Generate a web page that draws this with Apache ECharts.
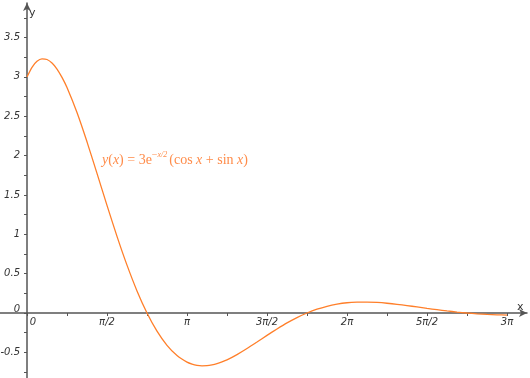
<!DOCTYPE html>
<html><head><meta charset="utf-8">
<script src="https://cdn.jsdelivr.net/npm/echarts@6/dist/echarts.min.js"></script>
<style>html,body{margin:0;padding:0;background:#fff}#c{width:530px;height:378px}</style>
</head><body><div id="c"></div>
<script>
// x in units of pi/4
var xs = [0,0.125,0.25,0.375,0.5,0.625,0.75,0.875,1,1.25,1.5,1.75,2,2.25,2.5,2.75,3,3.25,3.5,3.75,4,4.125,4.25,4.375,4.5,4.625,4.75,4.875,5,5.25,5.5,5.75,6,6.25,6.5,6.75,7,7.25,7.5,7.75,8,8.25,8.5,8.75,9,9.25,9.5,9.75,10,10.25,10.5,10.75,11,11.25,11.5,11.75,12];
var ys = [3.000,3.122,3.198,3.229,3.221,3.176,3.100,2.994,2.865,2.547,2.175,1.774,1.368,0.974,0.608,0.281,0,-0.231,-0.411,-0.541,-0.624,-0.649,-0.665,-0.671,-0.670,-0.660,-0.644,-0.622,-0.596,-0.529,-0.452,-0.369,-0.284,-0.203,-0.126,-0.058,0,0.048,0.085,0.112,0.130,0.138,0.139,0.134,0.124,0.110,0.094,0.077,0.059,0.042,0.026,0.012,0,-0.010,-0.018,-0.023,-0.027];
var xTickVals = [0,1,2,3,4,5,6,7,8,9,10,11,12];
var xLabelVals = [0,2,4,6,8,10,12];
var xLabelText = ['0','π/2','π','3π/2','2π','5π/2','3π'];
var yTickVals = [-0.75,-0.5,-0.25,0,0.25,0.5,0.75,1,1.25,1.5,1.75,2,2.25,2.5,2.75,3,3.25,3.5,3.75];
var yLabelVals = [-0.5,0,0.5,1,1.5,2,2.5,3,3.5];
var yLabelText = ['-0.5','0','0.5','1','1.5','2','2.5','3','3.5'];

var data = xs.map(function(x,i){return [x, ys[i]];});
var axisColor = '#555';
var labelFont = {fontFamily:'DejaVu Sans', fontStyle:'italic', fontSize:10, color:'#333'};
var chart = echarts.init(document.getElementById('c'));
chart.setOption({
  animation:false,
  grid:{left:0,right:3,top:3,bottom:0,containLabel:false,outerBoundsMode:'none'},
  xAxis:{type:'value',min:-0.675,max:12.5,position:'bottom',offset:-65,
    axisLine:{onZero:false,lineStyle:{color:axisColor,width:1.5},symbol:['none','arrow'],symbolSize:[6,8]},
    axisTick:{show:true,customValues:xTickVals,length:3,inside:false,lineStyle:{color:axisColor}},
    axisLabel:Object.assign({show:true,customValues:xLabelVals,margin:4,
      formatter:function(v){var i=xLabelVals.indexOf(Math.round(v)); var t=xLabelText[i]; return i===0?'{z|'+t+'}':t;},
      rich:{z:Object.assign({padding:[0,0,0,12]},labelFont)}},labelFont),
    splitLine:{show:false},
    name:'x',nameLocation:'end',nameGap:-10,nameTextStyle:{fontFamily:'DejaVu Sans',fontSize:11,color:'#333',verticalAlign:'bottom',padding:[0,0,0,0]}
  },
  yAxis:{type:'value',min:-0.826,max:3.939,position:'left',offset:-27,
    axisLine:{onZero:false,lineStyle:{color:axisColor,width:1.5},symbol:['none','arrow'],symbolSize:[6,8]},
    axisTick:{show:true,customValues:yTickVals,length:3,lineStyle:{color:axisColor}},
    axisLabel:Object.assign({show:true,customValues:yLabelVals,margin:7,
      formatter:function(v){var i=-1;for(var j=0;j<yLabelVals.length;j++){if(Math.abs(yLabelVals[j]-v)<1e-6)i=j;} var t=yLabelText[i]; return Math.abs(v)<1e-9?'{z|'+t+'}':t;},
      rich:{z:Object.assign({padding:[0,0,8,0]},labelFont)}},labelFont),
    splitLine:{show:false},
    name:'y',nameLocation:'end',nameGap:-16,nameTextStyle:{fontFamily:'DejaVu Sans',fontSize:11,color:'#333',align:'left',padding:[0,0,0,2]}
  },
  series:[{type:'line',data:data,smooth:0.2,showSymbol:false,lineStyle:{color:'#ff7f2a',width:1.3},z:3}],
  graphic:[{type:'text',left:102,top:150,style:{
    text:'{i|y}{n|(}{i|x}{n|) = 3e}{s|−}{f|x/2}{n|(cos }{i|x}{n| + sin }{i|x}{n|)}',
    rich:{
      i:{fontFamily:'Liberation Serif',fontStyle:'italic',fontSize:14,fill:'#ff8c4a'},
      n:{fontFamily:'Liberation Serif',fontSize:14,fill:'#ff8c4a'},
      s:{fontFamily:'Liberation Serif',fontSize:10,fill:'#ff8c4a',padding:[0,0,10,0]},
      f:{fontFamily:'Liberation Serif',fontStyle:'italic',fontSize:8,fill:'#ff8c4a',padding:[0,2,11,0]}
    }}}]
});
</script></body></html>
